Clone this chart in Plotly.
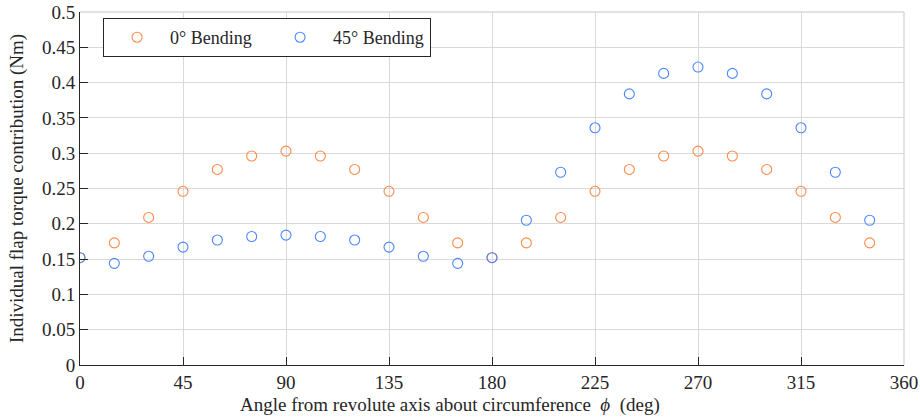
import plotly.graph_objects as go

angles = [0, 15, 30, 45, 60, 75, 90, 105, 120, 135, 150, 165,
          180, 195, 210, 225, 240, 255, 270, 285, 300, 315, 330, 345]
bend0 = [0.152, 0.173, 0.209, 0.246, 0.277, 0.296, 0.303, 0.296, 0.277, 0.246, 0.209, 0.173,
         0.152, 0.173, 0.209, 0.246, 0.277, 0.296, 0.303, 0.296, 0.277, 0.246, 0.209, 0.173]
bend45 = [0.152, 0.144, 0.154, 0.167, 0.177, 0.182, 0.184, 0.182, 0.177, 0.167, 0.154, 0.144,
          0.152, 0.205, 0.273, 0.336, 0.384, 0.413, 0.422, 0.413, 0.384, 0.336, 0.273, 0.205]
xticks = [0, 45, 90, 135, 180, 225, 270, 315, 360]
yticks = [0, 0.05, 0.1, 0.15, 0.2, 0.25, 0.3, 0.35, 0.4, 0.45, 0.5]
yticktext = ["0", "0.05", "0.1", "0.15", "0.2", "0.25", "0.3", "0.35", "0.4", "0.45", "0.5"]
xtitle = "Angle from revolute axis about circumference  <i>ϕ</i>  (deg)"
ytitle = "Individual flap torque contribution (Nm)"

FONT = "Liberation Serif"
TXT = "#262626"
GRID = "#d9d9d9"

fig = go.Figure()
fig.add_trace(go.Scatter(x=angles, y=bend0, mode="markers", name="0° Bending",
                         marker=dict(symbol="circle-open", size=10, color="#ff8a47",
                                     line=dict(width=1.1))))
fig.add_trace(go.Scatter(x=angles, y=bend45, mode="markers", name="45° Bending",
                         marker=dict(symbol="circle-open", size=10, color="#4a87ff",
                                     line=dict(width=1.1))))

axis_common = dict(showgrid=True, gridcolor=GRID, gridwidth=1.4,
                   showline=True, linecolor=TXT, linewidth=1,
                   ticks="inside", ticklen=8, tickcolor=TXT, tickwidth=1,
                   zeroline=False, mirror=False, automargin=False,
                   ticklabeloverflow="allow",
                   tickfont=dict(family=FONT, size=19, color=TXT),
                   title_font=dict(family=FONT, size=19, color=TXT))

fig.update_xaxes(range=[0, 360], tickvals=xticks, ticktext=[str(t) for t in xticks],
                 **axis_common)
fig.update_yaxes(range=[0, 0.5], tickvals=yticks, ticktext=yticktext,
                 title_text=ytitle, title_standoff=13, **axis_common)

# x-axis title (sits slightly left of centre in the reference)
fig.add_annotation(text=xtitle, xref="paper", yref="paper", x=0.449, y=-0.113,
                   xanchor="center", yanchor="middle", showarrow=False,
                   font=dict(family=FONT, size=19, color=TXT))

# light frame on top and right (grid coloured, as in the reference)
fig.add_shape(type="line", xref="paper", yref="paper", x0=0, x1=1, y0=1, y1=1,
              line=dict(color=GRID, width=1.4), layer="below")
fig.add_shape(type="line", xref="paper", yref="paper", x0=1, x1=1, y0=0, y1=1,
              line=dict(color=GRID, width=1.4), layer="below")

fig.update_layout(
    width=920, height=420,
    margin=dict(l=80, r=16, t=12, b=55),
    plot_bgcolor="white", paper_bgcolor="white",
    legend=dict(orientation="h", x=0.028, y=0.983, xanchor="left", yanchor="top",
                bgcolor="white", bordercolor=TXT, borderwidth=1,
                font=dict(family=FONT, size=18, color=TXT),
                itemwidth=56, entrywidth=92),
)

fig.write_html("out.html", config={"displayModeBar": False},
               post_script="document.body.style.margin='0';document.body.style.padding='0';")
